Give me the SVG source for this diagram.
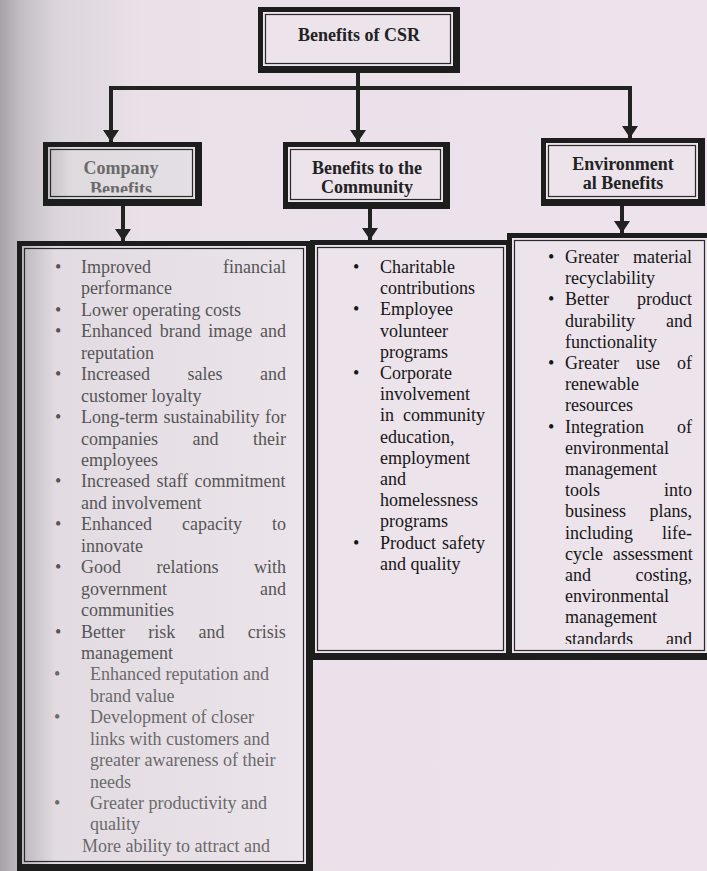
<svg xmlns="http://www.w3.org/2000/svg" width="707" height="871" viewBox="0 0 707 871">
<style>
.frame{fill:#1d1d1d}
.gap{fill:#ece3eb}
.thin{fill:none;stroke:#2a2a2a;stroke-width:1.2}
.lbl{font-family:"Liberation Serif","Times New Roman",serif;font-size:18px;font-weight:bold;fill:#222;text-anchor:middle}
.lst{font-family:"Liberation Serif","Times New Roman",serif;font-size:18px;fill:#161616}
.co{fill:#555}
.co2{fill:#6a6a6a}
.conn{fill:none;stroke:#222;stroke-width:4}
</style>
<defs>
<linearGradient id="bg" x1="0" y1="0" x2="1" y2="0">
<stop offset="0" stop-color="#a6a2a7"/>
<stop offset="0.03" stop-color="#c3bec4"/>
<stop offset="0.08" stop-color="#dcd5dc"/>
<stop offset="0.2" stop-color="#e9e0e8"/>
<stop offset="1" stop-color="#eee3ed"/>
</linearGradient>
<linearGradient id="cofill" x1="0" y1="0" x2="1" y2="0">
<stop offset="0" stop-color="#bdb9be"/>
<stop offset="0.12" stop-color="#e2dce2"/>
<stop offset="1" stop-color="#ebe4ea"/>
</linearGradient>
<linearGradient id="lblfill" x1="0" y1="0" x2="1" y2="0">
<stop offset="0" stop-color="#c4c0c4"/>
<stop offset="0.15" stop-color="#dedade"/>
<stop offset="1" stop-color="#e4dfe4"/>
</linearGradient>
<marker id="arr" viewBox="0 0 12 16" refX="12" refY="8" markerWidth="12" markerHeight="16" markerUnits="userSpaceOnUse" orient="auto">
<path d="M0,0 L12,8 L0,16 z" fill="#222"/>
</marker>
<clipPath id="envclip"><rect x="510" y="236" width="200" height="408"/></clipPath>
<clipPath id="coclip"><rect x="45" y="145" width="150" height="47.5"/></clipPath>
</defs>

<rect x="0" y="0" width="707" height="871" fill="url(#bg)"/>

<g id="connectors">
<path class="conn" d="M358,73 V142" marker-end="url(#arr)"/>
<path class="conn" d="M109,88 H632"/>
<path class="conn" d="M111,88 V142" marker-end="url(#arr)"/>
<path class="conn" d="M630,88 V138" marker-end="url(#arr)"/>
<path class="conn" d="M123,206 V241" marker-end="url(#arr)"/>
<path class="conn" d="M370,209 V240" marker-end="url(#arr)"/>
<path class="conn" d="M622,206 V233" marker-end="url(#arr)"/>
</g>

<g id="root">
<rect class="frame" x="258" y="7" width="202" height="66"/>
<rect class="gap" x="263" y="12" width="190" height="54"/>
<rect class="thin" x="265.5" y="14.5" width="185" height="49"/>
<text class="lbl" x="359" y="41">Benefits of CSR</text>
</g>

<g id="company">
<rect class="frame" x="43" y="142" width="159" height="64"/>
<rect x="48" y="147" width="147" height="52" fill="url(#lblfill)"/>
<rect class="thin" x="50.5" y="149.5" width="142" height="47"/>
<text class="lbl" x="121" y="174" style="fill:#6b6b6b">Company</text>
<text class="lbl" x="121" y="195" clip-path="url(#coclip)" style="fill:#6b6b6b">Benefits</text>
</g>

<g id="community">
<rect class="frame" x="283" y="142" width="167" height="67"/>
<rect class="gap" x="288" y="147" width="155" height="55"/>
<rect class="thin" x="290.5" y="149.5" width="150" height="50"/>
<text class="lbl" x="367" y="174">Benefits to the</text>
<text class="lbl" x="367" y="193">Community</text>
</g>

<g id="environmental">
<rect class="frame" x="541" y="138" width="164" height="68"/>
<rect class="gap" x="546" y="143" width="152" height="56"/>
<rect class="thin" x="548.5" y="145.5" width="147" height="51"/>
<text class="lbl" x="623" y="170">Environment</text>
<text class="lbl" x="623" y="189">al Benefits</text>
</g>

<g id="company-list">
<rect class="frame" x="17" y="241" width="296" height="630"/>
<rect x="22" y="246" width="284" height="618" fill="url(#cofill)"/>
<rect class="thin" x="24.5" y="248.5" width="279" height="613"/>
<g class="lst co">
<text x="55" y="273">•</text><text x="81" y="273">Improved</text><text x="223" y="273">financial</text>
<text x="81" y="294.4">performance</text>
<text x="55" y="315.9">•</text><text x="81" y="315.9">Lower operating costs</text>
<text x="55" y="337.3">•</text><text x="81" y="337.3" style="word-spacing:3.2px">Enhanced brand image and</text>
<text x="81" y="358.8">reputation</text>
<text x="55" y="380.2">•</text><text x="81" y="380.2" style="word-spacing:33px">Increased sales and</text>
<text x="81" y="401.6">customer loyalty</text>
<text x="55" y="423.1">•</text><text x="81" y="423.1" style="word-spacing:1px">Long-term sustainability for</text>
<text x="81" y="444.5" style="word-spacing:30px">companies and their</text>
<text x="81" y="466">employees</text>
<text x="55" y="487.4">•</text><text x="81" y="487.4" style="word-spacing:2px">Increased staff commitment</text>
<text x="81" y="508.8">and involvement</text>
<text x="55" y="530.3">•</text><text x="81" y="530.3" style="word-spacing:25.5px">Enhanced capacity to</text>
<text x="81" y="551.7">innovate</text>
<text x="55" y="573.2">•</text><text x="81" y="573.2" style="word-spacing:31px">Good relations with</text>
<text x="81" y="594.6" style="word-spacing:88.5px">government and</text>
<text x="81" y="616">communities</text>
<text x="55" y="637.5">•</text><text x="81" y="637.5" style="word-spacing:18.8px">Better risk and crisis</text>
<text x="81" y="658.9">management</text>
</g>
<g class="lst co2">
<text x="54" y="680.4">•</text><text x="90" y="680.4">Enhanced reputation and</text>
<text x="90" y="701.8">brand value</text>
<text x="54" y="723.2">•</text><text x="90" y="723.2">Development of closer</text>
<text x="90" y="744.7">links with customers and</text>
<text x="90" y="766.1">greater awareness of their</text>
<text x="90" y="787.6">needs</text>
<text x="54" y="809">•</text><text x="90" y="809">Greater productivity and</text>
<text x="90" y="830.4">quality</text>
<text x="82" y="851.9">More ability to attract and</text>
</g>
</g>

<g id="community-list">
<rect class="frame" x="310" y="240" width="203" height="420"/>
<rect class="gap" x="315" y="245" width="191" height="408"/>
<rect class="thin" x="317.5" y="247.5" width="186" height="403"/>
<g class="lst">
<text x="353" y="273">•</text><text x="380" y="273">Charitable</text>
<text x="380" y="294.2">contributions</text>
<text x="353" y="315.4">•</text><text x="380" y="315.4">Employee</text>
<text x="380" y="336.6">volunteer</text>
<text x="380" y="357.8">programs</text>
<text x="353" y="379">•</text><text x="380" y="379">Corporate</text>
<text x="380" y="400.2">involvement</text>
<text x="380" y="421.4" style="word-spacing:4.5px">in community</text>
<text x="380" y="442.6">education,</text>
<text x="380" y="463.8">employment</text>
<text x="380" y="485">and</text>
<text x="380" y="506.2">homelessness</text>
<text x="380" y="527.4">programs</text>
<text x="353" y="548.6">•</text><text x="380" y="548.6" style="word-spacing:1.5px">Product safety</text>
<text x="380" y="569.8">and quality</text>
</g>
</g>

<g id="environmental-list">
<rect class="frame" x="507" y="233" width="205" height="427"/>
<rect class="gap" x="512" y="238" width="195" height="415"/>
<rect class="thin" x="514.5" y="240.5" width="190" height="410"/>
<g class="lst" clip-path="url(#envclip)">
<text x="548" y="263">•</text><text x="565" y="263" style="word-spacing:9.5px">Greater material</text>
<text x="565" y="284.2">recyclability</text>
<text x="548" y="305.4">•</text><text x="565" y="305.4" style="word-spacing:23.5px">Better product</text>
<text x="565" y="326.6" style="word-spacing:26.5px">durability and</text>
<text x="565" y="347.8">functionality</text>
<text x="548" y="369">•</text><text x="565" y="369" style="word-spacing:12.5px">Greater use of</text>
<text x="565" y="390.2">renewable</text>
<text x="565" y="411.4">resources</text>
<text x="548" y="432.6">•</text><text x="565" y="432.6" style="word-spacing:28.5px">Integration of</text>
<text x="565" y="453.8">environmental</text>
<text x="565" y="475">management</text>
<text x="565" y="496.2" style="word-spacing:59.5px">tools into</text>
<text x="565" y="517.4" style="word-spacing:19px">business plans,</text>
<text x="565" y="538.6" style="word-spacing:24.5px">including life-</text>
<text x="565" y="559.8" style="word-spacing:5.3px">cycle assessment</text>
<text x="565" y="581" style="word-spacing:40px">and costing,</text>
<text x="565" y="602.2">environmental</text>
<text x="565" y="623.4">management</text>
<text x="565" y="644.6" style="word-spacing:28.5px">standards and</text>
</g>
</g>
</svg>
